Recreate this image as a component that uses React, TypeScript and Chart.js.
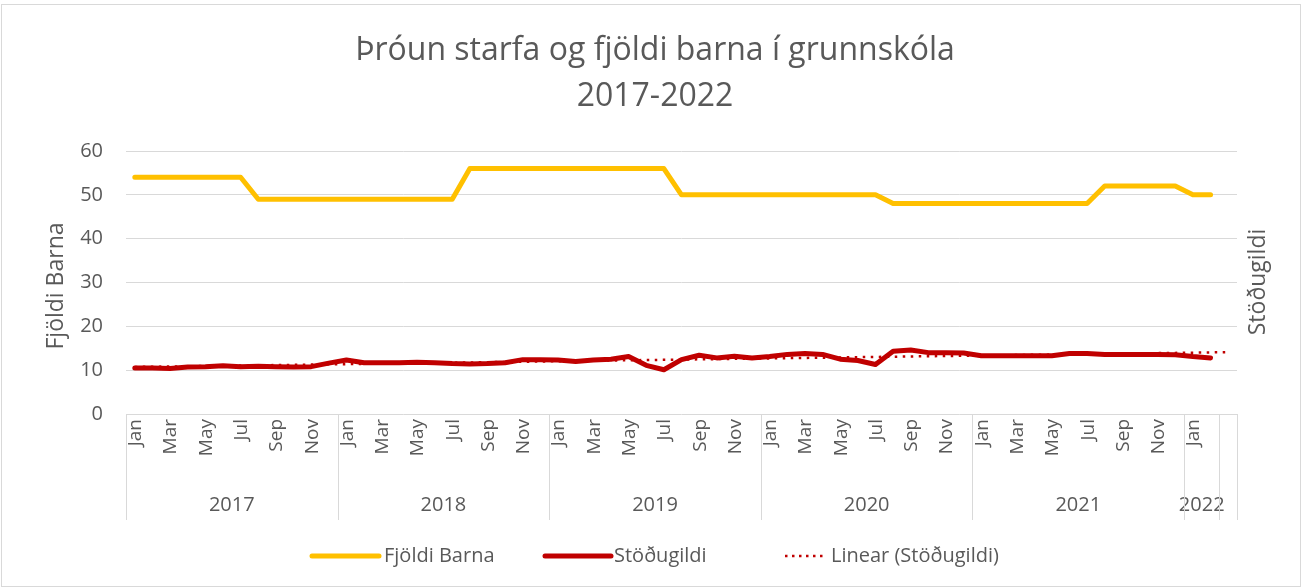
import React, { useEffect, useRef } from "react";
import { Chart, registerables } from "chart.js";

Chart.register(...registerables);

const TITLE_LINES = ["Þróun starfa og fjöldi barna í grunnskóla", "2017-2022"];
const MONTHS = ["Jan", "Feb", "Mar", "Apr", "May", "Jun", "Jul", "Aug", "Sep", "Oct", "Nov", "Dec"];
const YEARS = ["2017", "2018", "2019", "2020", "2021", "2022"];
const MONTHS_PER_YEAR = [12, 12, 12, 12, 12, 2];
const Y_TICKS = [0, 10, 20, 30, 40, 50, 60];
const Y_TITLE_LEFT = "Fjöldi Barna";
const Y_TITLE_RIGHT = "Stöðugildi";
const SERIES_NAMES = ["Fjöldi Barna", "Stöðugildi", "Linear (Stöðugildi)"];

const FJOLDI_BARNA = [
  54, 54, 54, 54, 54, 54, 54, 49, 49, 49, 49, 49,
  49, 49, 49, 49, 49, 49, 49, 56, 56, 56, 56, 56,
  56, 56, 56, 56, 56, 56, 56, 50, 50, 50, 50, 50,
  50, 50, 50, 50, 50, 50, 50, 48, 48, 48, 48, 48,
  48, 48, 48, 48, 48, 48, 48, 52, 52, 52, 52, 52,
  50, 50,
];

const STODUGILDI = [
  10.5, 10.5, 10.4, 10.7, 10.8, 11.0, 10.8, 10.9, 10.8, 10.7, 10.8, 11.6,
  12.3, 11.7, 11.7, 11.7, 11.8, 11.7, 11.5, 11.4, 11.5, 11.7, 12.4, 12.4,
  12.3, 12.0, 12.3, 12.5, 13.1, 11.1, 10.1, 12.4, 13.4, 12.8, 13.2, 12.8,
  13.1, 13.6, 13.8, 13.6, 12.5, 12.2, 11.3, 14.3, 14.6, 14.0, 14.0, 13.9,
  13.3, 13.3, 13.3, 13.3, 13.3, 13.8, 13.8, 13.6, 13.6, 13.6, 13.6, 13.5,
  13.1, 12.8,
];

const FORECAST_PERIODS = 1;

const YELLOW = "#FFC000";
const RED = "#C00000";
const TEXT = "#595959";
const GRID = "#D9D9D9";
const FONT = "'Open Sans', 'DejaVu Sans', sans-serif";

function buildLabels(): string[] {
  const out: string[] = [];
  YEARS.forEach((y, yi) => {
    for (let m = 0; m < MONTHS_PER_YEAR[yi]; m++) out.push(MONTHS[m] + " " + y);
  });
  for (let f = 0; f < FORECAST_PERIODS; f++) out.push("");
  return out;
}

function linearTrend(values: number[], total: number): number[] {
  const n = values.length;
  let sx = 0, sy = 0, sxy = 0, sxx = 0;
  values.forEach((v, i) => {
    const x = i + 1;
    sx += x; sy += v; sxy += x * v; sxx += x * x;
  });
  const b = (n * sxy - sx * sy) / (n * sxx - sx * sx);
  const a = (sy - b * sx) / n;
  const out: number[] = [];
  for (let i = 0; i < total; i++) out.push(a + b * (i + 1));
  return out;
}

const decorPlugin = {
  id: "decor",
  afterDraw(chart: any) {
    const ctx = chart.ctx as CanvasRenderingContext2D;
    const area = chart.chartArea;
    const xs = chart.scales.x;
    const ys = chart.scales.y;
    const nCat = chart.data.labels.length;
    const w = (area.right - area.left) / nCat;
    ctx.save();

    // outer border
    ctx.strokeStyle = GRID;
    ctx.lineWidth = 1;
    ctx.strokeRect(1.5, 4.5, 1299, 582);

    // title
    ctx.fillStyle = TEXT;
    ctx.textAlign = "center";
    ctx.textBaseline = "middle";
    ctx.font = "32px " + FONT;
    ctx.fillText(TITLE_LINES[0], 655, 51);
    ctx.fillText(TITLE_LINES[1], 655, 97);

    // y tick labels
    ctx.font = "20px " + FONT;
    ctx.textAlign = "right";
    Y_TICKS.forEach((t) => {
      ctx.fillText(String(t), 103, ys.getPixelForValue(t));
    });

    // axis titles
    ctx.font = "23px " + FONT;
    ctx.textAlign = "center";
    ctx.save();
    ctx.translate(56, 286);
    ctx.rotate(-Math.PI / 2);
    ctx.fillText(Y_TITLE_LEFT, 0, 0);
    ctx.restore();
    ctx.save();
    ctx.translate(1258, 282);
    ctx.rotate(-Math.PI / 2);
    ctx.fillText(Y_TITLE_RIGHT, 0, 0);
    ctx.restore();

    // month labels
    ctx.font = "19px " + FONT;
    ctx.textAlign = "right";
    ctx.textBaseline = "middle";
    let idx = 0;
    YEARS.forEach((y, yi) => {
      for (let m = 0; m < MONTHS_PER_YEAR[yi]; m++) {
        if (m % 2 === 0) {
          const x = xs.getPixelForValue(idx);
          ctx.save();
          ctx.translate(x + 1, area.bottom + 5);
          ctx.rotate(-Math.PI / 2);
          ctx.fillText(MONTHS[m], 0, 0);
          ctx.restore();
        }
        idx++;
      }
    });

    // separators + year labels
    ctx.strokeStyle = GRID;
    ctx.lineWidth = 1;
    ctx.font = "20px " + FONT;
    const bottomY = 520;
    let start = 0;
    const bounds: number[] = [0];
    YEARS.forEach((y, yi) => {
      const end = start + MONTHS_PER_YEAR[yi];
      const x0 = area.left + start * w;
      const x1 = area.left + end * w;
      ctx.textAlign = "center";
      ctx.textBaseline = "middle";
      ctx.fillText(y, (x0 + x1) / 2, 505);
      bounds.push(end);
      start = end;
    });
    bounds.push(nCat);
    bounds.forEach((b) => {
      const x = Math.round(area.left + b * w) + 0.5;
      ctx.beginPath();
      ctx.moveTo(x, area.bottom);
      ctx.lineTo(x, bottomY);
      ctx.stroke();
    });

    // legend
    const ly = 556;
    ctx.lineCap = "round";
    ctx.lineWidth = 5;
    ctx.strokeStyle = YELLOW;
    ctx.beginPath(); ctx.moveTo(312, ly); ctx.lineTo(379, ly); ctx.stroke();
    ctx.strokeStyle = RED;
    ctx.beginPath(); ctx.moveTo(545, ly); ctx.lineTo(611, ly); ctx.stroke();
    ctx.lineCap = "butt";
    ctx.lineWidth = 2.5;
    ctx.setLineDash([2.5, 4.5]);
    ctx.beginPath(); ctx.moveTo(785, ly); ctx.lineTo(825, ly); ctx.stroke();
    ctx.setLineDash([]);
    ctx.font = "20px " + FONT;
    ctx.textAlign = "left";
    ctx.fillStyle = TEXT;
    ctx.fillText(SERIES_NAMES[0], 384, ly);
    ctx.fillText(SERIES_NAMES[1], 614, ly);
    ctx.fillText(SERIES_NAMES[2], 831, ly);

    ctx.restore();
  },
};

export default function App() {
  const ref = useRef<HTMLCanvasElement | null>(null);
  useEffect(() => {
    if (!ref.current) return;
    const labels = buildLabels();
    const trend = linearTrend(STODUGILDI, labels.length);
    const chart = new Chart(ref.current, {
      type: "line",
      data: {
        labels,
        datasets: [
          {
            label: SERIES_NAMES[0],
            data: FJOLDI_BARNA,
            borderColor: YELLOW,
            backgroundColor: YELLOW,
            borderWidth: 5,
            pointRadius: 0,
            borderJoinStyle: "round",
            borderCapStyle: "round",
            tension: 0,
            order: 3,
          },
          {
            label: SERIES_NAMES[2],
            data: trend,
            borderColor: RED,
            backgroundColor: RED,
            borderWidth: 2.5,
            borderDash: [2.5, 5.5],
            pointRadius: 0,
            tension: 0,
            order: 2,
          },
          {
            label: SERIES_NAMES[1],
            data: STODUGILDI,
            borderColor: RED,
            backgroundColor: RED,
            borderWidth: 5,
            pointRadius: 0,
            borderJoinStyle: "round",
            borderCapStyle: "round",
            tension: 0,
            order: 1,
          },
        ],
      },
      options: {
        responsive: false,
        animation: false,
        layout: { padding: { left: 126, right: 66, top: 151, bottom: 174 } },
        plugins: { legend: { display: false }, title: { display: false }, tooltip: { enabled: false } },
        scales: {
          x: { display: false, offset: true },
          y: {
            min: 0,
            max: 60,
            ticks: { display: false, stepSize: 10 },
            border: { display: false },
            grid: { color: GRID, lineWidth: 1, drawTicks: false },
            afterFit: (s: any) => { s.width = 0; },
          },
        },
      },
      plugins: [decorPlugin],
    });
    return () => chart.destroy();
  }, []);
  return (
    <div style={{ position: "absolute", left: 0, top: 0, width: 1303, height: 588, background: "#fff" }}>
      <canvas ref={ref} width={1303} height={588} style={{ display: "block" }} />
    </div>
  );
}
